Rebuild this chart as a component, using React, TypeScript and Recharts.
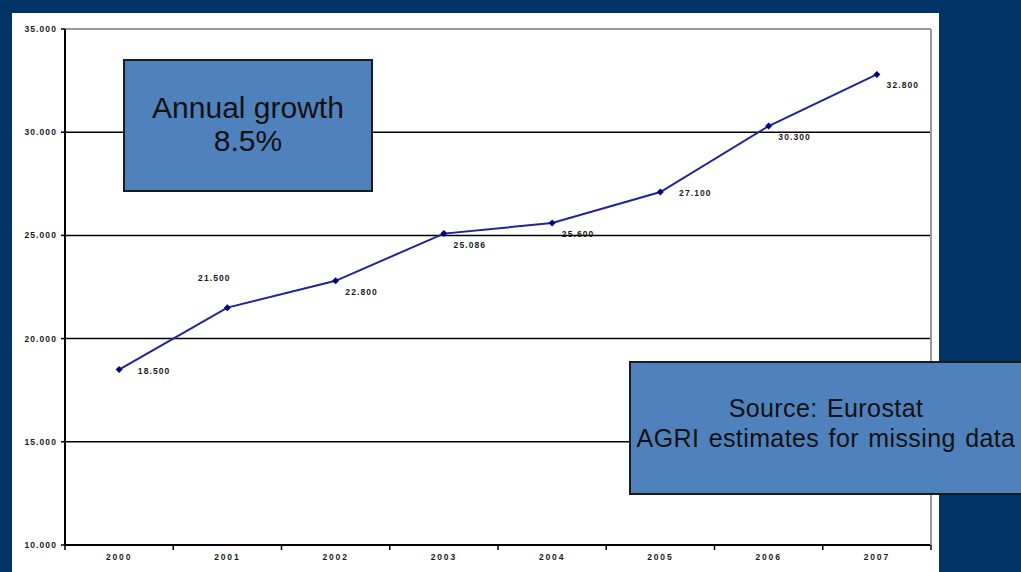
import React from 'react';
import { LineChart, Line, XAxis, YAxis, CartesianGrid, ReferenceLine, LabelList } from 'recharts';

const categories = ['2000', '2001', '2002', '2003', '2004', '2005', '2006', '2007'];
const values = [18500, 21500, 22800, 25086, 25600, 27100, 30300, 32800];
const yTicks = [10000, 15000, 20000, 25000, 30000, 35000];
const labelPlacement = ['right', 'above', 'below', 'below', 'below', 'right', 'below', 'below'];

const data = categories.map((c, i) => ({ year: c, value: values[i] }));

const fmt = (v: number) => {
  const s = Math.round(v).toString();
  return s.replace(/\B(?=(\d{3})+(?!\d))/g, '.');
};

const FONT = '"Liberation Sans", Arial, sans-serif';

const XTick = (props: any) => {
  const { x, y, payload, index } = props;
  const half = payload && payload.offset ? payload.offset : 54.1;
  return (
    <g>
      <line x1={x - half} y1={y} x2={x - half} y2={y + 5} stroke="#000" strokeWidth={1.5} />
      {index === categories.length - 1 && (
        <line x1={x + half} y1={y} x2={x + half} y2={y + 5} stroke="#000" strokeWidth={1.5} />
      )}
      <text x={x} y={y + 15} textAnchor="middle" fontSize={8.5} fontWeight="bold" letterSpacing={1.8} fill="#1a1a1a" fontFamily={FONT}>
        {payload.value}
      </text>
    </g>
  );
};

const YTick = (props: any) => {
  const { x, y, payload } = props;
  return (
    <text x={x} y={y} dy={3} textAnchor="end" fontSize={8.5} fontWeight="bold" letterSpacing={1.1} fill="#1a1a1a" fontFamily={FONT}>
      {fmt(payload.value)}
    </text>
  );
};

const Diamond = (props: any) => {
  const { cx, cy } = props;
  if (cx == null || cy == null) return null;
  const r = 3.5;
  return <polygon points={`${cx},${cy - r} ${cx + r},${cy} ${cx},${cy + r} ${cx - r},${cy}`} fill="#000080" />;
};

const DataLabel = (props: any) => {
  const { x, y, value, index } = props;
  const p = labelPlacement[index];
  let dx = 26;
  let dy = 11;
  if (p === 'right') { dx = 35; dy = 1; }
  if (p === 'above') { dx = -13; dy = -30; }
  return (
    <text x={x + dx} y={y + dy} dy={3} textAnchor="middle" fontSize={8.5} fontWeight="bold" letterSpacing={1.1} fill="#1a1a1a" fontFamily={FONT}>
      {fmt(value)}
    </text>
  );
};

export default function App() {
  return (
    <div style={{ position: 'fixed', left: 0, top: 0, width: 1021, height: 572, background: '#003366', overflow: 'hidden', fontFamily: FONT }}>
      <div style={{ position: 'absolute', left: 12, top: 13, width: 927, height: 600, background: '#ffffff' }} />
      <div style={{ position: 'absolute', left: 0, top: 0 }}>
        <LineChart width={1021} height={572} data={data} margin={{ top: 29, right: 89, bottom: 5, left: 15 }}>
          <CartesianGrid yAxisId="left" vertical={false} horizontal stroke="#000" strokeWidth={1.5} />
          <XAxis
            dataKey="year"
            scale="band"
            axisLine={{ stroke: '#000', strokeWidth: 2 }}
            tickLine={false}
            tickSize={0}
            tickMargin={0}
            height={22}
            interval={0}
            tick={<XTick />}
          />
          <YAxis
            yAxisId="left"
            domain={[10000, 35000]}
            ticks={yTicks}
            width={50}
            axisLine={{ stroke: '#000', strokeWidth: 2 }}
            tickLine={{ stroke: '#000', strokeWidth: 1.5 }}
            tickSize={4}
            tickMargin={4}
            interval={0}
            tick={<YTick />}
          />
          <YAxis
            yAxisId="right"
            orientation="right"
            domain={[10000, 35000]}
            width={1}
            axisLine={{ stroke: '#999', strokeWidth: 2 }}
            tick={false}
            tickLine={false}
          />
          <ReferenceLine yAxisId="left" y={35000} stroke="#999" strokeWidth={2} />
          <Line
            yAxisId="left"
            type="linear"
            dataKey="value"
            stroke="#22229a"
            strokeWidth={2}
            dot={<Diamond />}
            activeDot={false}
            isAnimationActive={false}
          >
            <LabelList dataKey="value" content={<DataLabel />} />
          </Line>
        </LineChart>
      </div>
      <div
        style={{
          position: 'absolute', left: 123, top: 59, width: 250, height: 133, boxSizing: 'border-box',
          border: '2px solid #1b1b1b', background: '#4f81bd', color: '#111',
          display: 'flex', alignItems: 'center', justifyContent: 'center', textAlign: 'center',
          fontSize: 30, lineHeight: '33px', paddingBottom: 4,
        }}
      >
        <div>Annual growth<br />8.5%</div>
      </div>
      <div
        style={{
          position: 'absolute', left: 629, top: 361, width: 394, height: 134, boxSizing: 'border-box',
          border: '2px solid #1b1b1b', background: '#4f81bd', color: '#111',
          display: 'flex', alignItems: 'center', justifyContent: 'center', textAlign: 'center',
          fontSize: 25, lineHeight: '30px', letterSpacing: 0.4, wordSpacing: 2, paddingBottom: 10, whiteSpace: 'nowrap',
        }}
      >
        <div>Source: Eurostat<br />AGRI estimates for missing data</div>
      </div>
    </div>
  );
}
